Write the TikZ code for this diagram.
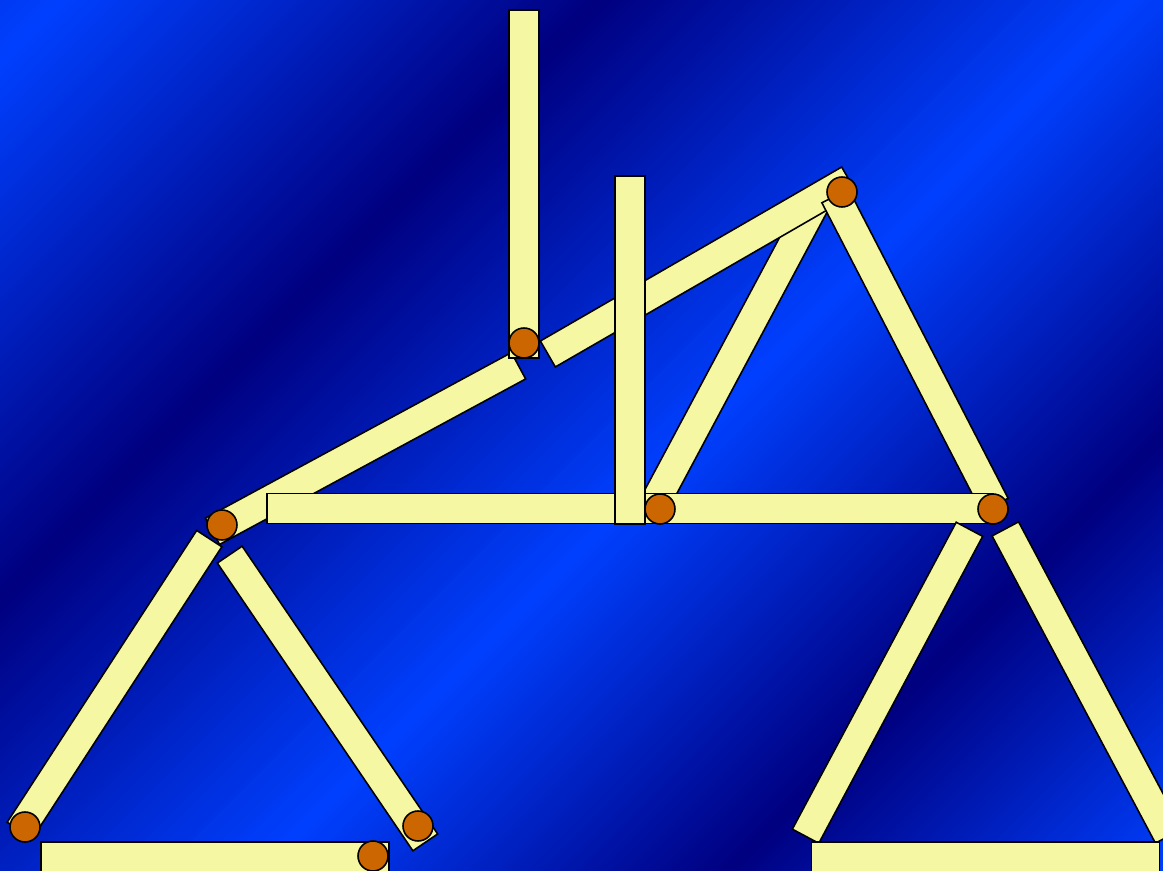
\documentclass[tikz,border=0pt]{standalone}
\usepackage{tikz}
\usetikzlibrary{positioning, calc}

\definecolor{bgbright}{RGB}{0,64,255}
\definecolor{bgdark}{RGB}{0,0,128}
\definecolor{stickyellow}{RGB}{245,247,163}
\definecolor{headorange}{RGB}{204,102,0}

\begin{document}
\begin{tikzpicture}[
x=0.02cm, y=-0.02cm,
    stick/.style={rectangle, draw, line width=0.9pt, fill=stickyellow, minimum width=6.96cm, minimum height=0.6cm, inner sep=0pt},
    head/.style={circle, draw, line width=0.9pt, fill=headorange, minimum size=0.6cm, inner sep=0pt}
]
    \useasboundingbox (0,0) rectangle (1163,871);

    % Background stripes
    \begin{scope}
    \clip (0,0) rectangle (1163,871);
    \foreach \s in {0,6,...,2040} {
        \pgfmathsetmacro{\tpos}{\s+3}
        \pgfmathtruncatemacro{\mixp}{\tpos<600 ? 100-abs(\tpos-60)/540*100 : (\tpos<1130 ? (\tpos-600)/530*100 : (\tpos<1600 ? (1600-\tpos)/470*100 : (\tpos-1600)/440*100))}
        \pgfmathtruncatemacro{\mixp}{max(0,min(100,\mixp))}
        \fill[bgbright!\mixp!bgdark] (\s,0) -- (\s+9,0) -- (\s+9-900,900) -- (\s-900,900) -- cycle;
    }
    \end{scope}

    % Upper triangle
    \node[stick, rotate=61.9] (upleft) at (733,356.5) {};
    \node[stick, rotate=30] (topdiag) at (698.5,267) {};
    \node[stick, rotate=-62.7] (upright) at (915,350.5) {};

    % Roof and floor
    \node[stick, rotate=28.4] (roofleft) at (365.5,448.5) {};
    \node[stick] (floorleft) at (441,508.5) {};
    \node[stick] (floorright) at (819,508.5) {};

    % Posts
    \node[stick, rotate=90] (postleft) at (524,184) {};
    \node[stick, rotate=90] (postright) at (630,350) {};

    % Lower left triangle
    \node[stick, rotate=57] (llleft) at (114.5,684.5) {};
    \node[stick, rotate=-55.8] (llright) at (327.5,698.5) {};
    \node[stick] (llbase) at (215,857) {};

    % Lower right triangle
    \node[stick, rotate=61.9] (lrleft) at (887.5,682.75) {};
    \node[stick, rotate=-62] (lrright) at (1087,682.5) {};
    \node[stick] (lrbase) at (985.5,857) {};

    % Heads
    \foreach \hx/\hy/\name in {524/343/hpost, 842/192/htop, 660/509/hfloor, 993/509/hright,
        222/525/hroof, 25/827/hllleft, 418/826/hllright, 373/856/hllbase}
        \node[head] (\name) at (\hx,\hy) {};

\end{tikzpicture}
\end{document}
